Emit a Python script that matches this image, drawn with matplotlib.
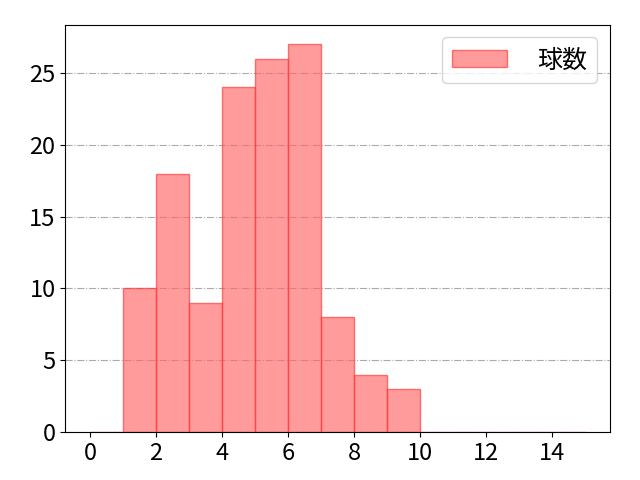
import matplotlib
matplotlib.use('Agg')
from matplotlib import pyplot as plt

plt.rcParams['font.family'] = ['Noto Sans CJK JP', 'DejaVu Sans']

# Data: pitch counts per bin (bins 0..15)
bin_edges = list(range(0, 16))
counts = [0, 10, 18, 9, 24, 26, 27, 8, 4, 3, 0, 0, 0, 0, 0]
label = '球数'

fig, ax = plt.subplots(figsize=(6.4, 4.8), dpi=100)
ax.hist(bin_edges[:-1], bins=bin_edges, weights=counts, color='#ff6666',
        alpha=0.65, edgecolor='#ff3333', linewidth=1, label=label)
ax.set_xticks(range(0, 15, 2))
ax.set_yticks(range(0, 30, 5))
ax.tick_params(labelsize=17)
ax.grid(axis='y', linestyle='-.', color='#aaaaaa', linewidth=0.8)
ax.set_axisbelow(True)
ax.legend(loc='upper right', fontsize=18, handlelength=2.2, handletextpad=1.2)
fig.subplots_adjust(left=0.102, right=0.953, top=0.948, bottom=0.1)
plt.savefig('out.png')
plt.close()
